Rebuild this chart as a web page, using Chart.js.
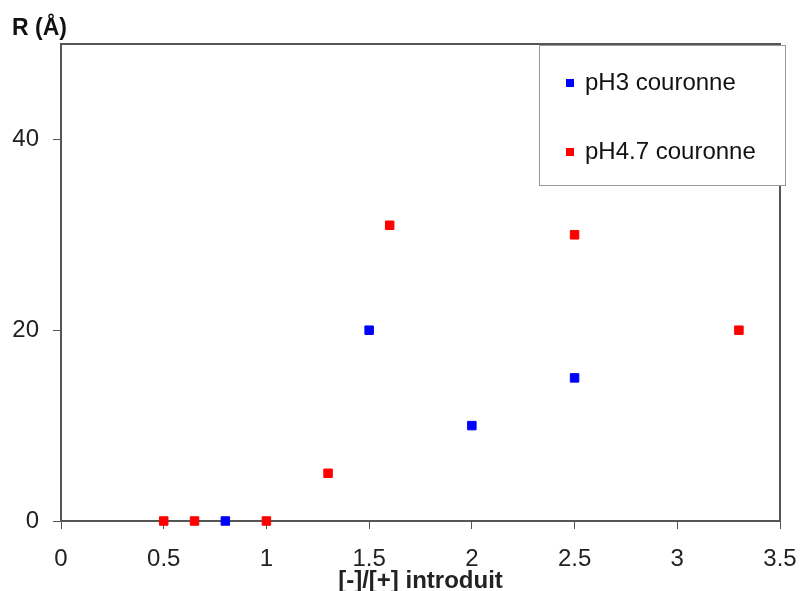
<!DOCTYPE html>
<html>
<head>
<meta charset="utf-8">
<script src="https://cdn.jsdelivr.net/npm/chart.js@4/dist/chart.umd.min.js"></script>
<style>
  html, body { margin: 0; padding: 0; background: #fff; }
  #wrap { width: 805px; height: 591px; }
</style>
</head>
<body>
<div id="wrap"><canvas id="MyChart" width="805" height="591"></canvas></div>
<script>
// series (x = [-]/[+] introduit, y = R in Angstrom)
const seriesNames = ["pH3 couronne", "pH4.7 couronne"];
const ph3X = [0.8, 1.5, 2, 2.5];
const ph3Y = [0, 20, 10, 15];
const ph47X = [0.5, 0.65, 1, 1.3, 1.6, 2.5, 3.3];
const ph47Y = [0, 0, 0, 5, 31, 30, 20];
const yTickValues = [0, 20, 40];

const FONT = "'Liberation Sans', Arial, sans-serif";
const AXIS = "#555";

function pts(xs, ys) {
  return xs.map((x, i) => ({ x: x, y: ys[i] }));
}

// box round the plot area, drawn under the markers
const frame = {
  id: "frame",
  beforeDatasetsDraw(chart) {
    const a = chart.chartArea, ctx = chart.ctx;
    ctx.save();
    ctx.strokeStyle = AXIS;
    ctx.lineWidth = 2;
    ctx.strokeRect(a.left, a.top, a.right - a.left, a.bottom - a.top);
    ctx.restore();
  }
};

// boxed legend in the top right corner + horizontal y title
const legendBox = {
  id: "legendBox",
  afterDraw(chart) {
    const ctx = chart.ctx, a = chart.chartArea;
    ctx.save();
    const bx = a.right - 241, by = a.top + 1, bw = 246, bh = 140;
    ctx.fillStyle = "#fff";
    ctx.fillRect(bx, by, bw, bh);
    ctx.strokeStyle = "#999";
    ctx.lineWidth = 1;
    ctx.strokeRect(bx + 0.5, by + 0.5, bw, bh);
    ctx.font = "24px " + FONT;
    ctx.textBaseline = "middle";
    chart.data.datasets.forEach((ds, i) => {
      const cy = by + 38 + i * 69;
      ctx.fillStyle = ds.backgroundColor;
      ctx.fillRect(bx + 27, cy - 4, 8, 8);
      ctx.fillStyle = "#111";
      ctx.fillText(ds.label, bx + 46, cy);
    });
    ctx.font = "bold 23px " + FONT;
    ctx.textBaseline = "alphabetic";
    ctx.fillStyle = "#111";
    ctx.fillText("R (Å)", 12, 35);
    ctx.restore();
  }
};

const data = {
  datasets: [
    {
      label: seriesNames[0],
      data: pts(ph3X, ph3Y),
      backgroundColor: "#0000ff",
      borderColor: "#0000ff",
      pointStyle: "rect",
      pointRadius: 6,
      borderWidth: 1,
      clip: false,
    },
    {
      label: seriesNames[1],
      data: pts(ph47X, ph47Y),
      backgroundColor: "#ff0000",
      borderColor: "#ff0000",
      pointStyle: "rect",
      pointRadius: 6,
      borderWidth: 1,
      clip: false,
    },
  ],
};

const config = {
  type: "scatter",
  data: data,
  options: {
    responsive: false,
    animation: false,
    layout: { padding: { left: 0, top: 44, right: 25, bottom: 0 } },
    plugins: {
      legend: { display: false },
      tooltip: { enabled: false },
    },
    scales: {
      x: {
        type: "linear",
        min: 0,
        max: 3.5,
        afterFit: (s) => { s.height = 70; s.paddingLeft = 0; s.paddingRight = 0; },
        ticks: {
          stepSize: 0.5,
          padding: 16,
          color: "#222",
          font: { family: FONT, size: 24 },
          maxRotation: 0,
          callback: (v) => String(v),
        },
        grid: { drawOnChartArea: false, tickLength: 8, color: AXIS, lineWidth: 1 },
        border: { color: AXIS, width: 2 },
        title: {
          display: true,
          text: "[-]/[+] introduit",
          color: "#222",
          font: { family: FONT, size: 24, weight: "bold" },
          padding: { top: 0, bottom: -5 },
        },
      },
      y: {
        type: "linear",
        min: 0,
        max: 50,
        afterFit: (s) => { s.width = 61; },
        afterBuildTicks: (s) => {
          s.ticks = yTickValues.map((v) => ({ value: v }));
        },
        ticks: {
          padding: 14,
          color: "#222",
          font: { family: FONT, size: 24 },
        },
        grid: { drawOnChartArea: false, tickLength: 8, color: AXIS, lineWidth: 1 },
        border: { color: AXIS, width: 2 },
      },
    },
  },
  plugins: [frame, legendBox],
};

new Chart(document.getElementById("MyChart"), config);
</script>
</body>
</html>
